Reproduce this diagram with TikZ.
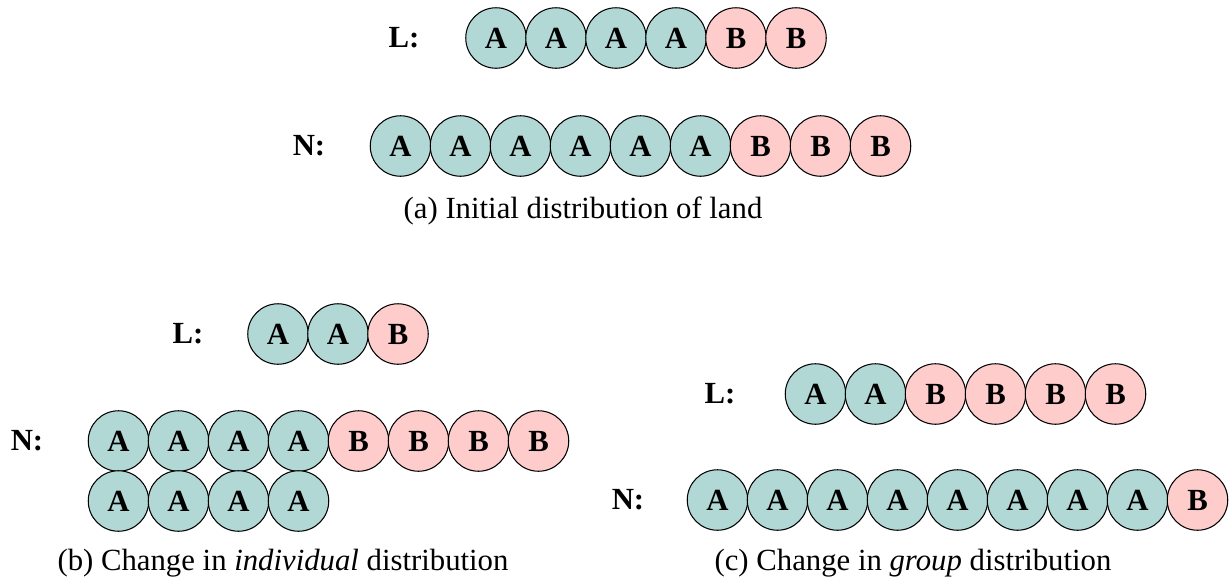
\documentclass[tikz,border=0pt]{standalone}
\usepackage{fontspec}
\setmainfont{Liberation Serif}
\usetikzlibrary{positioning}
\definecolor{landA}{RGB}{178,216,214}
\definecolor{landB}{RGB}{255,204,204}
\tikzset{
  parcel/.style={circle, draw=black, line width=0.6pt, minimum size=1.21cm, inner sep=0pt, font=\fontsize{17.5}{21}\selectfont\bfseries},
  parcelA/.style={parcel, fill=landA},
  parcelB/.style={parcel, fill=landB},
  rowlabel/.style={font=\fontsize{17.5}{21}\selectfont\bfseries},
  caption/.style={font=\fontsize{17.5}{21}\selectfont}
}

\begin{document}
\begin{tikzpicture}[x=0.02cm, y=-0.02cm]
        \useasboundingbox (0,0) rectangle (1231,582);

        % (a) initial
        \node[rowlabel] (aL) at (404,38) {L:};
        \foreach \t [count=\i from 0] in {A,A,A,A,B,B}
            \node[parcel\t] (aL\i) at (496+60*\i,38) {\t};
        \node[rowlabel] (aN) at (309,146) {N:};
        \foreach \t [count=\i from 0] in {A,A,A,A,A,A,B,B,B}
            \node[parcel\t] (aN\i) at (400.5+60*\i,146) {\t};
        \node[caption] (capA) at (583,211) {(a) Initial distribution of land};

        % (b) individual
        \node[rowlabel] (bL) at (188,334) {L:};
        \foreach \t [count=\i from 0] in {A,A,B}
            \node[parcel\t] (bL\i) at (278+60*\i,334) {\t};
        \node[rowlabel] (bN) at (27,441) {N:};
        \foreach \t [count=\i from 0] in {A,A,A,A,B,B,B,B}
            \node[parcel\t] (bN\i) at (118.5+60*\i,441) {\t};
        \foreach \t [count=\i from 0] in {A,A,A,A}
            \node[parcel\t] (bM\i) at (118.5+60*\i,501) {\t};
        \node[caption] (capB) at (283,563) {(b) Change in \textit{individual} distribution};

        % (c) group
        \node[rowlabel] (cL) at (720,394) {L:};
        \foreach \t [count=\i from 0] in {A,A,B,B,B,B}
            \node[parcel\t] (cL\i) at (815.5+60*\i,394) {\t};
        \node[rowlabel] (cN) at (628,500) {N:};
        \foreach \t [count=\i from 0] in {A,A,A,A,A,A,A,A,B}
            \node[parcel\t] (cN\i) at (717.5+60*\i,500) {\t};
        \node[caption] (capC) at (913,563) {(c) Change in \textit{group} distribution};
    \end{tikzpicture}
\end{document}
